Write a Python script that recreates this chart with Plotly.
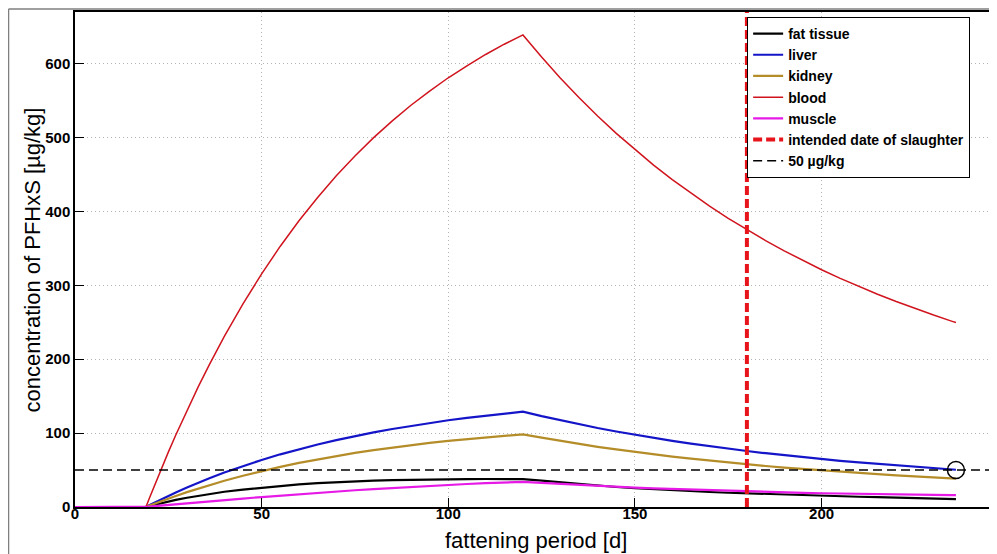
import plotly.graph_objects as go

# ---- data ----
days = [0, 19, 20, 22, 25, 27, 30, 33, 36, 40,
        45, 50, 55, 60, 65, 70, 75, 80, 85, 90,
        95, 100, 105, 110, 115, 120,
        125, 130, 135, 140, 145, 150,
        155, 160, 165, 170, 175, 180,
        185, 190, 195, 200, 205, 210,
        215, 220, 225, 230, 235, 236]
fat_tissue = [0, 0, 1.4, 4.0, 7.5, 9.6, 12.5, 15.2, 17.7, 20.6,
              23.6, 26.2, 28.5, 30.5, 32.2, 33.6, 34.7, 35.6, 36.3, 36.9,
              37.3, 37.6, 37.8, 37.9, 37.9, 37.8,
              35.8, 33.4, 31.1, 29.0, 27.1, 25.4,
              23.9, 22.6, 21.4, 20.3, 19.3, 18.4,
              17.5, 16.7, 15.9, 15.2, 14.5, 13.9,
              13.3, 12.7, 12.0, 11.4, 10.7, 10.6]
liver = [0, 0, 2.6, 7.7, 15.0, 19.7, 26.4, 32.8, 38.9, 46.6,
         55.5, 63.7, 71.3, 78.3, 84.6, 90.6, 96.0, 101.0, 105.6, 109.8,
         113.7, 117.4, 120.6, 123.7, 126.5, 129.1,
         123.0, 117.3, 111.9, 106.9, 102.2, 97.7,
         93.5, 89.5, 85.8, 82.3, 78.9, 75.8,
         72.8, 70.0, 67.4, 64.9, 62.5, 60.3,
         58.2, 56.2, 54.3, 52.5, 50.8, 50.4]
kidney = [0, 0, 2.0, 5.9, 11.4, 15.0, 20.1, 25.0, 29.7, 35.5,
          42.3, 48.6, 54.4, 59.7, 64.5, 69.1, 73.2, 77.0, 80.5, 83.7,
          86.7, 89.5, 91.9, 94.3, 96.5, 98.4,
          93.8, 89.4, 85.3, 81.5, 77.9, 74.5,
          71.3, 68.3, 65.4, 62.7, 60.2, 57.8,
          55.5, 53.4, 51.4, 49.5, 47.7, 46.0,
          44.4, 42.8, 41.4, 40.0, 38.7, 38.5]
blood = [0, 0, 12.9, 38.1, 74.3, 97.5, 130.8, 162.6, 192.7, 230.8,
         274.9, 315.5, 353, 387.4, 419, 448.5, 475, 500, 522.7, 543.8,
         563, 581, 597, 612.5, 626.4, 639,
         609.0, 580.7, 554.2, 529.2, 505.7, 483.6,
         462.8, 443.2, 424.7, 407.2, 390.8, 375.2,
         360.6, 346.7, 333.6, 321.2, 309.5, 298.5,
         288.0, 278.1, 268.7, 259.8, 251.3, 249.7]
muscle = [0, 0, 0.5, 1.4, 2.8, 3.7, 5.0, 6.3, 7.6, 9.3,
          11.4, 13.5, 15.5, 17.4, 19.3, 21.0, 22.7, 24.3, 25.8, 27.2,
          28.6, 29.9, 31.1, 32.2, 33.2, 34.0,
          32.6, 31.2, 29.9, 28.6, 27.4, 26.3,
          25.3, 24.4, 23.5, 22.6, 21.8, 21.0,
          20.3, 19.7, 19.1, 18.6, 18.1, 17.6,
          17.2, 16.9, 16.6, 16.4, 16.2, 16.1]

slaughter_day = 180
threshold = 50
circle_x = [236]
circle_y = [50]

x_range = [0, 247]
y_range = [0, 670]
x_ticks = [0, 50, 100, 150, 200]
y_ticks = [0, 100, 200, 300, 400, 500, 600]

series = [
    ("fat tissue", fat_tissue, "#000000", 2.2),
    ("liver", liver, "#1414c8", 2.2),
    ("kidney", kidney, "#b48c28", 2.2),
    ("blood", blood, "#d0141e", 1.5),
    ("muscle", muscle, "#e619e6", 2.2),
]

FONT = "Liberation Sans, Arial, sans-serif"

fig = go.Figure()
for name, vals, color, w in series:
    fig.add_trace(go.Scatter(x=days, y=vals, mode="lines", name=name,
                             line=dict(color=color, width=w)))

fig.add_trace(go.Scatter(x=[slaughter_day, slaughter_day], y=y_range, mode="lines",
                         name="intended date of slaughter",
                         line=dict(color="#e8141c", width=4, dash="9px,4px")))
fig.add_trace(go.Scatter(x=x_range, y=[threshold, threshold], mode="lines",
                         name="50 µg/kg",
                         line=dict(color="#000000", width=1.5, dash="9px,5px")))
fig.add_trace(go.Scatter(x=circle_x, y=circle_y, mode="markers", showlegend=False,
                         marker=dict(symbol="circle-open", size=17, color="#000000",
                                     line=dict(width=1.5, color="#000000"))))

tick_font = dict(family=FONT, size=15, color="#000000", weight="bold")
common = dict(ticks="inside", ticklen=9, tickcolor="#000000", showline=True,
              linecolor="#000000", linewidth=1.5, showgrid=True,
              gridcolor="#b4b4b4", griddash="1px,3px", gridwidth=1,
              zeroline=False, tickfont=tick_font)
fig.update_xaxes(range=x_range, tickvals=x_ticks, mirror=True, ticklabelstandoff=-8, **common)
fig.update_yaxes(range=y_range, tickvals=y_ticks, mirror=False, **common)

# page body has an 8px margin: figure is 989x546 so the plot lands where the reference has it
fig.update_layout(
    width=989, height=546,
    margin=dict(l=67, r=0, t=4, b=47, autoexpand=False),
    paper_bgcolor="#ffffff", plot_bgcolor="#ffffff",
    font=dict(family=FONT, color="#000000"),
    legend=dict(x=0.729, y=0.99, xanchor="left", yanchor="top",
                bgcolor="#ffffff", bordercolor="#000000", borderwidth=1,
                font=dict(family=FONT, size=14, color="#000000", weight="bold"),
                tracegroupgap=0),
    showlegend=True,
    annotations=[
        dict(text="fattening period [d]", xref="paper", yref="paper", x=0.5, y=-0.067,
             xanchor="center", yanchor="middle", showarrow=False,
             font=dict(size=22, family=FONT)),
        dict(text="concentration of PFHxS [µg/kg]", xref="paper", yref="paper",
             x=-0.0456, y=0.5, xanchor="center", yanchor="middle", textangle=-90,
             showarrow=False, font=dict(size=22, family=FONT)),
    ],
    shapes=[
        dict(type="line", xref="paper", yref="paper", x0=-0.0721, x1=-0.0721,
             y0=-0.2, y1=1.006, line=dict(color="#7f7f7f", width=1.5)),
        dict(type="line", xref="paper", yref="paper", x0=-0.0721, x1=1.05,
             y0=1.006, y1=1.006, line=dict(color="#7f7f7f", width=1.5)),
    ],
)

fig.write_html("out.html")
